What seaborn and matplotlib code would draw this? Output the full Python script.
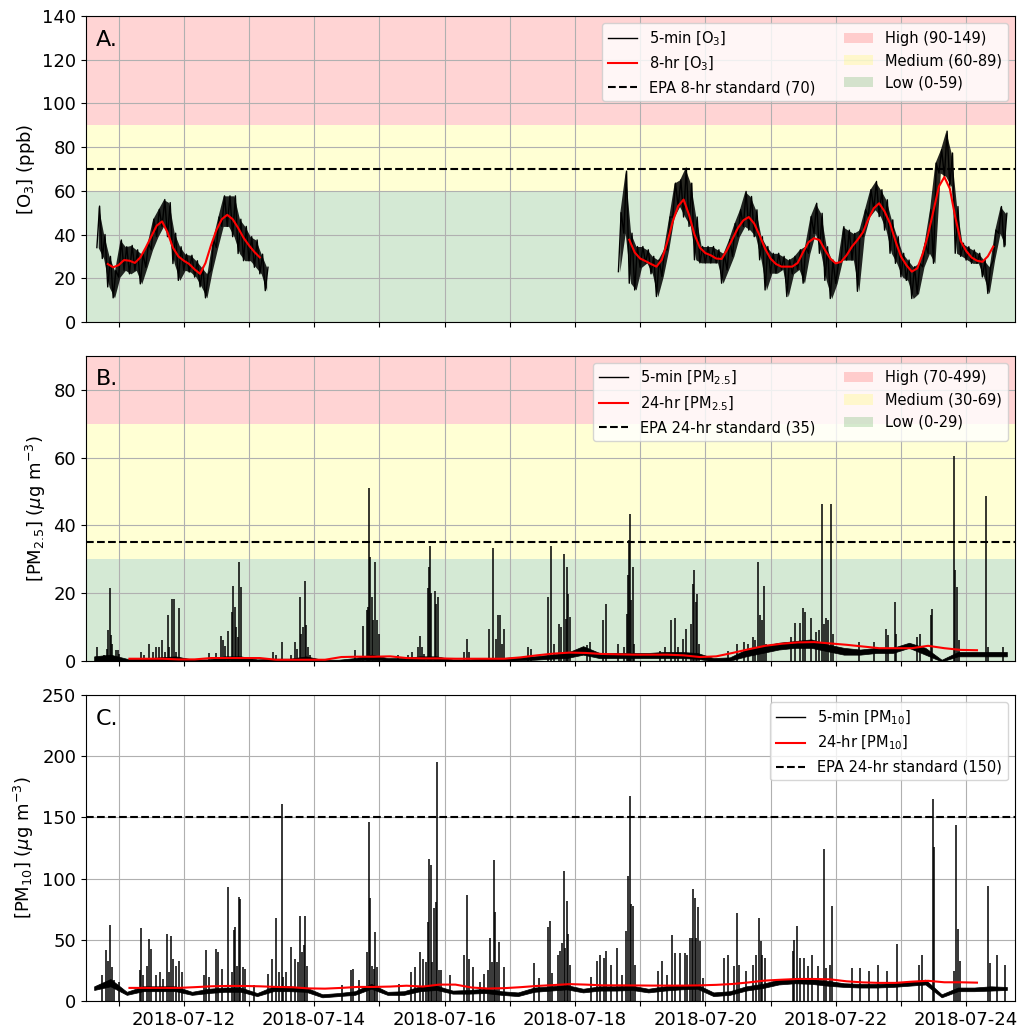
import numpy as np
import pandas as pd
import matplotlib
matplotlib.use("Agg")
import matplotlib.pyplot as plt
import matplotlib.dates as mdates
from matplotlib.ticker import FuncFormatter
from matplotlib.lines import Line2D
from matplotlib.patches import Patch
import seaborn as sns

# time is kept as hours after 2018-07-10 00:00
T0 = pd.Timestamp("2018-07-10")

# ---- O3 (ppb): 5-min data read as low/high of each 2-h bin ----
o3_seg1_hours = np.arange(16, 80, 2)
o3_seg1_lo = [34, 29, 16, 11, 20.5, 23.6, 22, 23.6, 17.4, 25, 33, 39, 43.7, 39, 26.7, 19,
              23.6, 22.8, 20.5, 16, 11, 23.6, 34, 43.7, 43.7, 39, 31.3, 28, 28, 25, 22, 14.3]
o3_seg1_hi = [53, 40, 30, 23.5, 37.5, 34.4, 35, 33, 31, 36, 47, 51.5, 56, 54.6, 40.6, 34.4,
              31, 30.5, 28, 25, 22, 37.5, 48, 57.7, 57.7, 57.7, 47, 43.7, 39, 37.5, 31, 25]
o3_seg2_hours = np.arange(208, 352, 2)
o3_seg2_lo = [23, 40.6, 17.7, 14.6, 25, 27, 22, 11.6, 20.8, 33, 48, 52.8, 48, 43.7, 28.4, 27,
              27, 27, 27, 17.7, 23.8, 30, 39, 43.7, 42, 39, 28.4, 14.6, 22.3, 22.3, 24, 11.6,
              22, 24, 17.7, 31.4, 40.5, 31.4, 19, 10.7, 17.6, 28.3, 28.3, 28.3, 14, 39, 48.2, 51.3,
              48.2, 42, 31.4, 26.8, 20.6, 19, 10.7, 13, 25.2, 31.4, 26.8, 68.1, 66.6, 62, 31.4, 30,
              28.3, 26.8, 26.8, 20.6, 13, 28.3, 40.5, 34.4]
o3_seg2_hi = [50, 69, 40.6, 34.5, 34.5, 33, 30, 28.4, 33, 48, 63.5, 65, 70.4, 63.5, 48, 34.5,
              34.5, 34.5, 33, 31.4, 37.6, 45, 51.3, 59.7, 57.4, 51.3, 39, 34.5, 31.4, 31.4, 30, 28.4,
              30, 33, 34.5, 48.2, 54.3, 49.7, 34.4, 28.3, 26.8, 43.6, 42, 40.5, 42, 51.3, 60.5, 64.3,
              60.5, 55.9, 46.7, 39, 31.4, 28.3, 25.2, 26.8, 36, 51.3, 72.7, 78.8, 87.3, 77.3, 52.8, 36,
              34.4, 32.9, 31.4, 28.3, 25.2, 42, 52.8, 49.7]
o3_8hr_seg1_hours = np.arange(20, 78, 2)
o3_8hr_seg1 = [26.5, 25, 26, 28.3, 28, 27, 29.5, 34, 39, 44, 46, 41, 34, 30, 28, 26.5, 24, 22,
               27, 35, 42, 47, 49, 47, 43, 38.5, 35, 32, 29.5]
o3_8hr_seg2_hours = np.arange(212, 348, 2)
o3_8hr_seg2 = [37.6, 31.8, 29, 27.8, 26.5, 25.3, 28.5, 36.5, 46, 53, 56, 49, 40, 34, 31.5, 30.5,
               29, 28.8, 33, 38, 43, 46.5, 48, 45, 39.5, 33.5, 29, 26.5, 25.3, 25.3, 25.3, 27,
               32, 36.5, 38.3, 37.5, 33, 29, 26.8, 27.5, 30.5, 34.5, 37.5, 41, 47, 52, 54.3, 50.5,
               45, 37, 30, 26, 23, 24.5, 31, 40, 51, 62, 66.3, 61, 48, 37, 32.5, 29.5, 28, 27.5,
               30, 34.5]

# ---- PM: 5-min baseline low/high every 6 h, plus the spikes (hour, value) ----
pm_hours = np.arange(15, 352, 6)
pm25_lo = [0, 0.3, 0, 0, 0.2, 0.2, 0, 0, 0.3, 0.3, 0, 0, 0, 0.3, 0, 0, 0.2, 0.5, 0.2, 0.2,
           0.3, 0.3, 0, 0, 0.2, 0.2, 0.3, 0.5, 0.8, 1, 2, 1, 1, 1, 1, 1, 1, 0.8, 0, 0.2,
           1.5, 2.5, 3.5, 4, 4, 3, 2, 2, 2.5, 2.5, 4, 2, 0, 1.5, 1.5, 1.5, 1.5]
pm25_hi = [1.5, 2, 0.8, 0.8, 1.2, 1.5, 0.6, 0.6, 1.5, 1.5, 0.6, 0.8, 0.8, 1.5, 0.5, 0.5, 1, 2, 1, 1,
           1.5, 1.5, 0.6, 0.6, 1, 1, 1.3, 1.5, 2, 2.5, 4.5, 2.5, 2.5, 2.5, 2.5, 2.8, 2.8, 2.5, 1, 1.2,
           3.5, 4.5, 5.5, 6, 6.5, 5, 4, 3.5, 4, 4, 5.5, 4, 0.5, 2.8, 2.8, 2.8, 2.8]
pm10_lo = [9, 12, 5, 8, 8, 8, 5, 6.5, 7.5, 7.5, 4, 8, 8, 7.5, 3, 4, 5, 10, 5, 5, 8, 9, 6, 6,
           6.5, 5, 4, 7.5, 8.5, 9.5, 7, 8.5, 8.5, 9, 7, 8.5, 9.5, 10, 4, 5, 8.5, 10.5, 13.5, 14.5,
           14, 12.5, 11.5, 11, 11, 11.5, 12.5, 13.5, 3, 8, 8, 8.5, 9]
pm10_hi = [12, 18, 7.5, 12, 12, 12, 7.5, 10, 11, 11, 6.5, 12, 12, 11, 5.5, 6.5, 8, 14, 7.5, 8,
           12, 12.5, 8.5, 9, 10, 8, 7, 11, 12, 13, 10, 12, 12, 12.5, 10, 12, 13, 13.5, 7, 8, 12,
           14, 17.5, 18.5, 18, 16.5, 14.5, 14, 14, 14.5, 15.5, 17.5, 5.5, 11, 11, 12, 11.5]
pm25_spikes = [
    (16.1, 4.2), (18.5, 1.8), (19.7, 3.7), (20.2, 9.2), (20.8, 21.5), (21.3, 7.7), (21.7, 5.0),
    (22.9, 3.4), (23.8, 3.4), (24.2, 2.3), (32.3, 2.8), (33.5, 2.0), (35.3, 5.0), (36.5, 2.8),
    (37.7, 4.2), (38.7, 4.2), (39.9, 6.4), (41.0, 2.8), (42.1, 13.6), (42.7, 4.2), (43.6, 18.3),
    (44.3, 18.3), (45.0, 2.8), (46.1, 15.8), (57.2, 2.6), (59.9, 2.6), (61.8, 7.4), (62.3, 6.2),
    (63.3, 4.4), (64.3, 9.0), (65.7, 14.6), (66.2, 22.1), (66.8, 16.0), (67.3, 10.1), (67.8, 7.2),
    (68.4, 29.3), (68.9, 21.9), (80.9, 2.8), (81.8, 1.8), (84.0, 5.7), (87.6, 2.0), (88.8, 5.7),
    (89.8, 3.7), (90.7, 19.0), (91.3, 8.2), (91.9, 10.1), (92.5, 23.7), (93.1, 10.6), (93.7, 4.2),
    (94.4, 1.8), (111.0, 3.4), (113.8, 10.3), (115.4, 15.0), (115.8, 16.0), (116.2, 51.0),
    (116.6, 30.8), (117.2, 19.0), (117.8, 12.1), (118.4, 29.3), (119.0, 12.1), (119.7, 8.2),
    (127.0, 1.8), (130.6, 2.0), (132.0, 2.8), (134.2, 4.2), (134.9, 7.4), (135.7, 4.2), (136.4, 2.3),
    (137.9, 21.5), (138.4, 27.9), (138.8, 34.0), (139.1, 20.0), (140.3, 20.8), (140.9, 17.0),
    (141.6, 19.0), (151.1, 2.8), (152.3, 6.7), (152.9, 2.8), (160.5, 9.6), (162.0, 33.3),
    (163.0, 6.7), (163.8, 13.6), (164.5, 13.6), (165.0, 5.2), (166.0, 9.6), (174.7, 4.2),
    (175.7, 3.7), (182.0, 19.0), (183.3, 34.0), (184.2, 5.2), (186.2, 11.1), (187.0, 10.1),
    (188.0, 31.6), (188.6, 12.6), (189.1, 27.7), (189.6, 19.8), (190.1, 13.1), (196.4, 4.7),
    (197.4, 5.7), (202.5, 12.1), (203.6, 16.8), (208.0, 5.0), (209.9, 4.2), (211.1, 14.1),
    (211.6, 25.4), (212.0, 35.7), (212.2, 43.4), (212.7, 18.0), (213.2, 27.7), (213.8, 5.2),
    (223.3, 3.2), (225.1, 4.2), (227.5, 12.1), (228.8, 12.9), (230.0, 4.2), (231.8, 6.7),
    (233.0, 9.6), (234.9, 11.1), (235.5, 22.9), (236.0, 26.9), (236.5, 17.5), (237.1, 19.8),
    (237.7, 5.2), (248.5, 3.2), (251.6, 5.2), (254.4, 5.7), (255.8, 5.0), (257.7, 7.2),
    (258.3, 6.4), (259.5, 29.3), (260.1, 13.6), (260.7, 12.1), (261.6, 22.2), (262.2, 5.2),
    (271.7, 7.2), (273.1, 11.3), (275.0, 11.3), (276.0, 15.8), (276.6, 14.6), (279.0, 12.9),
    (280.8, 8.7), (282.0, 9.2), (283.0, 46.4), (283.6, 11.1), (284.5, 12.9), (285.3, 12.1),
    (286.3, 46.4), (286.9, 8.2), (296.7, 5.7), (302.2, 5.7), (306.4, 9.6), (307.3, 7.7),
    (309.9, 17.5), (310.3, 8.2), (318.0, 7.2), (319.2, 8.2), (322.9, 13.6), (323.6, 15.4),
    (331.5, 60.5), (332.0, 26.9), (332.7, 22.0), (333.3, 6.2), (343.5, 48.8), (344.2, 4.2),
    (349.7, 4.2),
]
pm10_spikes = [
    (17.9, 21), (19.5, 41.6), (20.1, 33), (20.8, 62), (21.6, 28), (22.2, 17), (24, 15.6),
    (31.9, 25), (32.4, 60), (33.1, 21), (34.4, 29), (35.2, 50.6), (36, 42.4), (37.8, 21),
    (39.2, 24), (40.5, 18), (42, 54.4), (42.7, 24), (43.4, 53.3), (44.1, 34.7), (45.3, 29),
    (46.3, 32.5), (47.2, 24), (55.3, 21), (56.3, 41.6), (57.3, 19.7), (60, 42.4), (60.7, 40),
    (62.2, 26.5), (64.4, 93.5), (65.7, 24), (66.4, 58), (67, 60.7), (67.5, 29), (68.3, 85.3),
    (68.8, 83.4), (69.7, 28), (70.7, 26.5), (74, 12.9), (78.9, 22.4), (80.5, 34.7), (82, 68),
    (82.9, 24), (84, 161), (84.7, 19.7), (85.6, 24), (87.3, 44.3), (89, 34.7), (89.9, 32),
    (90.7, 69.7), (91.4, 40), (92.2, 45.7), (92.7, 69.7), (93.5, 29), (106.3, 12.9), (109.4, 25),
    (110.2, 26), (112.4, 17), (115.5, 40), (116.1, 146), (116.7, 84), (117.3, 29), (117.9, 26.5),
    (118.5, 56.6), (119.1, 28), (127.4, 13.7), (131.7, 24), (133.1, 28), (135, 40), (136.2, 34.7),
    (137.2, 32), (138, 64.8), (138.4, 116), (138.9, 111), (139.5, 32), (140.2, 75.8),
    (140.8, 81.2), (141.4, 195), (142, 25), (142.7, 25), (146, 21), (151.1, 37.5), (152.4, 86.7),
    (152.9, 34.7), (154.5, 28), (156.9, 15.6), (158.5, 22.4), (160, 25), (160.6, 51.1),
    (161.6, 32), (162.2, 115.4), (162.7, 73), (163.3, 32), (164.2, 48.4), (165.8, 28),
    (176.9, 31), (178.8, 19), (181.9, 60.7), (182.9, 65.3), (183.7, 23), (185.9, 38),
    (186.6, 40.7), (187.2, 47.5), (187.8, 106.3), (188.4, 43.4), (188.9, 81.7), (189.5, 55),
    (190.3, 29.8), (198, 20), (200.2, 32.5), (201.4, 38), (202.7, 35.2), (203.5, 40.7),
    (205.4, 29.8), (207.6, 43.4), (209.3, 21.6), (210.9, 57), (211.6, 102), (212.2, 167.8),
    (212.8, 79), (213.4, 77.6), (214, 29.8), (222.7, 24.3), (223.9, 32.5), (225.8, 21.6),
    (227.9, 53.8), (228.9, 39.3), (230.7, 39.3), (232.4, 39.3), (233.2, 38), (234.5, 51.6),
    (235.1, 51.6), (235.6, 91.3), (236.1, 84.4), (236.7, 51.6), (237.2, 76.8), (237.9, 49),
    (239, 19), (246.8, 35.2), (248.4, 38), (250.5, 28.4), (251.5, 72.1), (252.4, 29.8),
    (254.9, 24.3), (257.4, 29.8), (258.8, 38), (259.8, 68), (260.4, 49), (261, 38), (261.9, 35.2),
    (272.2, 40.7), (272.8, 49.5), (273.7, 61.2), (274.7, 35.2), (276.5, 35.2), (277.8, 28.4),
    (279.4, 38), (281.5, 28.4), (283.6, 124), (284.6, 27), (285.8, 29.8), (286.8, 77.6),
    (293.9, 27), (297, 27), (300.4, 24.3), (303.4, 29.8), (306.8, 24.3), (310.6, 46.2),
    (318.6, 29.8), (319.9, 38), (323.8, 165), (324.3, 126), (331.6, 24.3), (332.2, 143.7),
    (333.1, 58.5), (333.8, 32.5), (344.2, 94), (344.8, 31), (347.4, 38), (350.4, 29.8),
]
pm_24hr_hours = np.arange(28, 346, 6)
pm25_24hr = [0.8, 0.8, 0.8, 0.6, 0.6, 1.0, 1.0, 1.0, 1.0, 0.5, 0.5, 0.5, 0.5, 1.3, 1.4, 1.4, 1.5,
             1.0, 0.9, 0.9, 0.8, 0.8, 0.8, 0.8, 1.2, 1.8, 2.3, 2.6, 2.5, 2.2, 2.1, 2.0, 2.0, 2.0,
             1.8, 1.3, 1.5, 2.5, 3.6, 4.6, 5.2, 5.6, 5.7, 5.3, 4.9, 4.4, 3.9, 3.9, 3.9, 4.6, 3.9,
             3.4, 3.3]
pm10_24hr = [10.7, 10.7, 10.7, 10.7, 11.3, 12, 12.3, 12.3, 12, 11.5, 11.2, 10.3, 10.1, 10.7, 11.5,
             11.5, 11.8, 12.5, 11.8, 13.4, 13.4, 11, 10.2, 10.5, 11.3, 12.3, 13, 13.8, 13.4, 12.8,
             12.8, 12.7, 12.6, 12.6, 12.6, 12.8, 13.2, 13.9, 15.2, 16.7, 17.4, 18, 18, 17.7, 16.1,
             15.2, 14.8, 14.8, 15.8, 16.5, 15.3, 15.3, 15]

o3_bands = [(0, 60, "green", "Low (0-59)"), (60, 90, "yellow", "Medium (60-89)"),
            (90, 150, "red", "High (90-149)")]
pm25_bands = [(0, 30, "green", "Low (0-29)"), (30, 70, "yellow", "Medium (30-69)"),
              (70, 100, "red", "High (70-499)")]


def to_time(hours):
    return T0 + pd.to_timedelta(np.asarray(hours, dtype=float), unit="h")


def zigzag(hours, lo, hi):
    t = np.column_stack([hours, np.asarray(hours) + 1]).ravel()
    v = np.column_stack([lo, hi]).ravel()
    return to_time(t), v


def add_bands(ax, bands):
    handles = []
    for y0, y1, c, lab in bands:
        ax.axhspan(y0, y1, color=c, alpha=0.17, lw=0)
        handles.append(Patch(facecolor=c, alpha=0.17, label=lab))
    return handles[::-1]


def pm_panel(ax, lo, hi, spikes, avg):
    ax.fill_between(to_time(pm_hours), lo, hi, color="k", lw=0.5, zorder=2)
    sh, sv = zip(*spikes)
    ax.vlines(to_time(sh), 0, sv, color="k", lw=1.1, zorder=2)
    sns.lineplot(x=to_time(pm_24hr_hours), y=avg, ax=ax, color="red", lw=1.5, zorder=3)


fig, axes = plt.subplots(3, 1, figsize=(10.29, 10.27), dpi=100, sharex=True)
fig.subplots_adjust(left=86 / 1029, right=1015 / 1029, top=1 - 16 / 1027,
                    bottom=1 - 1001 / 1027, hspace=0.11)
ax1, ax2, ax3 = axes

# A. ozone
o3_patches = add_bands(ax1, o3_bands)
for h, lo, hi in [(o3_seg1_hours, o3_seg1_lo, o3_seg1_hi), (o3_seg2_hours, o3_seg2_lo, o3_seg2_hi)]:
    ax1.fill_between(to_time(np.asarray(h) + 0.5), lo, hi, color="k", alpha=0.85, lw=0, zorder=2)
    t, v = zigzag(h, lo, hi)
    sns.lineplot(x=t, y=v, ax=ax1, color="k", lw=1.0, sort=False, estimator=None)
for h, v in [(o3_8hr_seg1_hours, o3_8hr_seg1), (o3_8hr_seg2_hours, o3_8hr_seg2)]:
    sns.lineplot(x=to_time(h), y=v, ax=ax1, color="red", lw=1.5, zorder=3)
ax1.axhline(70, color="k", ls="--", lw=1.5)
ax1.set_ylim(0, 140)
ax1.set_ylabel("[O$_3$] (ppb)")
ax1.legend(handles=[Line2D([], [], color="k", lw=1, label="5-min [O$_3$]"),
                    Line2D([], [], color="red", lw=1.5, label="8-hr [O$_3$]"),
                    Line2D([], [], color="k", ls="--", lw=1.5, label="EPA 8-hr standard (70)")]
           + o3_patches, ncol=2, loc="upper right", fontsize=10.5)

# B. PM2.5
pm25_patches = add_bands(ax2, pm25_bands)
pm_panel(ax2, pm25_lo, pm25_hi, pm25_spikes, pm25_24hr)
ax2.axhline(35, color="k", ls="--", lw=1.5)
ax2.set_ylim(0, 90)
ax2.set_yticks([0, 20, 40, 60, 80])
ax2.set_ylabel("[PM$_{2.5}$] ($\\mu$g m$^{-3}$)")
ax2.legend(handles=[Line2D([], [], color="k", lw=1, label="5-min [PM$_{2.5}$]"),
                    Line2D([], [], color="red", lw=1.5, label="24-hr [PM$_{2.5}$]"),
                    Line2D([], [], color="k", ls="--", lw=1.5, label="EPA 24-hr standard (35)")]
           + pm25_patches, ncol=2, loc="upper right", fontsize=10.5)

# C. PM10
pm_panel(ax3, pm10_lo, pm10_hi, pm10_spikes, pm10_24hr)
ax3.axhline(150, color="k", ls="--", lw=1.5)
ax3.set_ylim(0, 250)
ax3.set_ylabel("[PM$_{10}$] ($\\mu$g m$^{-3}$)")
ax3.legend(handles=[Line2D([], [], color="k", lw=1, label="5-min [PM$_{10}$]"),
                    Line2D([], [], color="red", lw=1.5, label="24-hr [PM$_{10}$]"),
                    Line2D([], [], color="k", ls="--", lw=1.5, label="EPA 24-hr standard (150)")],
           loc="upper right", fontsize=10.5)


def even_day(x, pos):
    d = mdates.num2date(x)
    return d.strftime("%Y-%m-%d") if d.day % 2 == 0 else ""


for ax, letter in zip(axes, ["A.", "B.", "C."]):
    ax.grid(True)
    ax.set_xlabel("")
    ax.text(0.011, 0.955, letter, transform=ax.transAxes, fontsize=16, va="top", ha="left")
    ax.tick_params(labelsize=13)
    ax.yaxis.label.set_size(13)
ax3.xaxis.set_major_locator(mdates.DayLocator())
ax3.xaxis.set_major_formatter(FuncFormatter(even_day))
ax3.set_xlim(to_time([12])[0], to_time([354])[0])

plt.savefig("out.png", dpi=100)
